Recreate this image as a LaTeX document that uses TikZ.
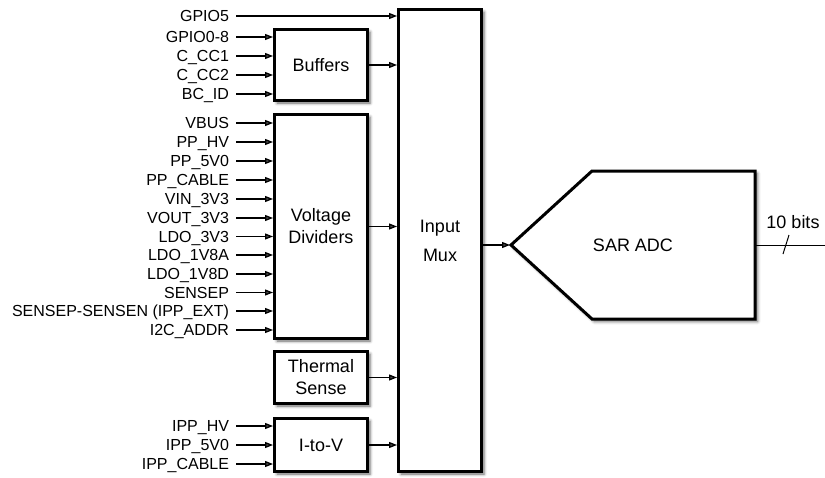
\documentclass[tikz,border=0pt]{standalone}
\usepackage{fontspec}
\setmainfont{Liberation Sans}
\usetikzlibrary{arrows.meta, shadows.blur}

\begin{document}
\begin{tikzpicture}[
        x=1pt, y=-1pt,
        font=\fontsize{16}{22}\selectfont,
        block/.style={rectangle, draw=black, fill=white, line width=3pt, align=center, inner sep=0pt, font=\fontsize{18}{22}\selectfont, blur shadow={shadow xshift=2.5pt, shadow yshift=-2.5pt, shadow blur radius=3pt, shadow opacity=60}},
        sig/.style={anchor=east, inner sep=0pt, outer xsep=7pt, text height=11.5pt, text depth=0pt},
        arrow/.style={-{Triangle[length=8pt, width=6pt]}, line width=1.3pt}
    ]
    \useasboundingbox (0,0) rectangle (825,477);

    % processing blocks
    \node (buf) [block, minimum width=93pt, minimum height=71pt] at (321,65) {Buffers};
    \node (vdiv) [block, minimum width=93pt, minimum height=224pt] at (321,226.5) {Voltage\\Dividers};
    \node (therm) [block, minimum width=93pt, minimum height=52pt] at (321,377.5) {Thermal\\Sense};
    \node (itov) [block, minimum width=93pt, minimum height=53pt] at (321,445) {I-to-V};
    \node (mux) [block, minimum width=83pt, minimum height=462pt] at (440,240.5) {Input\\[7pt]Mux};

    % converter
    \draw [line width=3pt, fill=white, blur shadow={shadow xshift=2.5pt, shadow yshift=-2.5pt, shadow blur radius=3pt, shadow opacity=60}]
        (511,245) -- (592,171) -- (755,171) -- (755,319) -- (592,319) -- cycle;
    \coordinate (adcin) at (510,245);
    \coordinate (adcout) at (756,245);
    \coordinate (busend) at (825,245);
    \coordinate (busmark) at (786,245);
    \node (adc) [font=\fontsize{18}{22}\selectfont] at (633,245) {SAR ADC};
    \node (bits) [font=\fontsize{18}{22}\selectfont] at (793,222) {10 bits};

    % input signals
    \node (gpiofive) [sig] at (236,16) {GPIO5};
    \node (gpioall) [sig] at (236,37) {GPIO0-8};
    \node (ccone) [sig] at (236,56) {C\_CC1};
    \node (cctwo) [sig] at (236,75) {C\_CC2};
    \node (bcid) [sig] at (236,94) {BC\_ID};
    \node (vbus) [sig] at (236,123) {VBUS};
    \node (pphv) [sig] at (236,142) {PP\_HV};
    \node (ppfive) [sig] at (236,161) {PP\_5V0};
    \node (ppcable) [sig] at (236,180) {PP\_CABLE};
    \node (vin) [sig] at (236,199) {VIN\_3V3};
    \node (vout) [sig] at (236,218) {VOUT\_3V3};
    \node (ldothree) [sig] at (236,236.5) {LDO\_3V3};
    \node (ldoa) [sig] at (236,255) {LDO\_1V8A};
    \node (ldod) [sig] at (236,274) {LDO\_1V8D};
    \node (sensep) [sig] at (236,292.5) {SENSEP};
    \node (senseext) [sig] at (236,311) {SENSEP-SENSEN (IPP\_EXT)};
    \node (iicaddr) [sig] at (236,330) {I2C\_ADDR};
    \node (ipphv) [sig] at (236,426) {IPP\_HV};
    \node (ippfive) [sig] at (236,445) {IPP\_5V0};
    \node (ippcable) [sig] at (236,464) {IPP\_CABLE};

    \draw [arrow] (gpiofive) -- (gpiofive -| mux.west);
    \draw [arrow] (gpioall) -- (gpioall -| buf.west);
    \draw [arrow] (ccone) -- (ccone -| buf.west);
    \draw [arrow] (cctwo) -- (cctwo -| buf.west);
    \draw [arrow] (bcid) -- (bcid -| buf.west);
    \draw [arrow] (vbus) -- (vbus -| vdiv.west);
    \draw [arrow] (pphv) -- (pphv -| vdiv.west);
    \draw [arrow] (ppfive) -- (ppfive -| vdiv.west);
    \draw [arrow] (ppcable) -- (ppcable -| vdiv.west);
    \draw [arrow] (vin) -- (vin -| vdiv.west);
    \draw [arrow] (vout) -- (vout -| vdiv.west);
    \draw [arrow] (ldothree) -- (ldothree -| vdiv.west);
    \draw [arrow] (ldoa) -- (ldoa -| vdiv.west);
    \draw [arrow] (ldod) -- (ldod -| vdiv.west);
    \draw [arrow] (sensep) -- (sensep -| vdiv.west);
    \draw [arrow] (senseext) -- (senseext -| vdiv.west);
    \draw [arrow] (iicaddr) -- (iicaddr -| vdiv.west);
    \draw [arrow] (ipphv) -- (ipphv -| itov.west);
    \draw [arrow] (ippfive) -- (ippfive -| itov.west);
    \draw [arrow] (ippcable) -- (ippcable -| itov.west);

    % block outputs
    \draw [arrow] (buf) -- (buf -| mux.west);
    \draw [arrow] (vdiv) -- (vdiv -| mux.west);
    \draw [arrow] (therm) -- (therm -| mux.west);
    \draw [arrow] (itov) -- (itov -| mux.west);
    \draw [arrow] (mux.east |- adcin) -- (adcin);

    % output bus
    \draw [line width=1pt] (adcout) -- (busend);
    \draw [line width=1pt] ([shift={(-3,9)}]busmark) -- ([shift={(3,-10)}]busmark);

\end{tikzpicture}
\end{document}
